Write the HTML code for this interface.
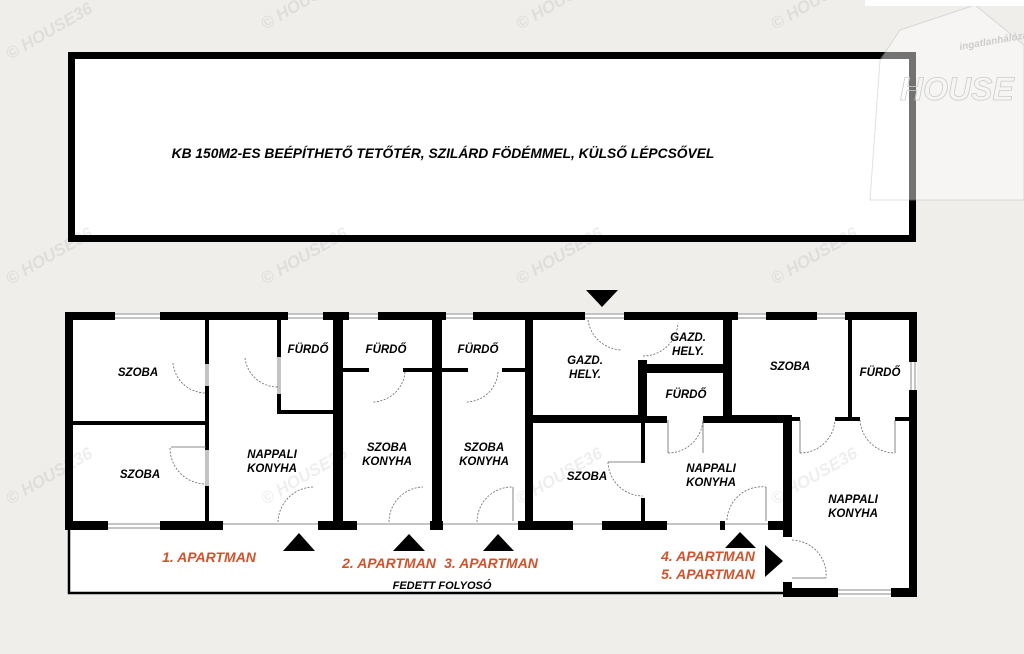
<!DOCTYPE html>
<html><head><meta charset="utf-8"><style>
html,body{margin:0;padding:0;background:#efeeeb;}
svg{display:block}
text{font-family:"Liberation Sans",sans-serif;font-weight:bold;font-style:italic;}
</style></head><body>
<svg width="1024" height="654" viewBox="0 0 1024 654" xmlns="http://www.w3.org/2000/svg">
<rect width="1024" height="654" fill="#efeeeb"/>
<!-- top rectangle -->
<rect x="71.5" y="55.5" width="841" height="183" fill="#fff" stroke="#000" stroke-width="7"/>
<text x="443" y="158" font-size="13.8" text-anchor="middle">KB 150M2-ES BEÉPÍTHETŐ TETŐTÉR, SZILÁRD FÖDÉMMEL, KÜLSŐ LÉPCSŐVEL</text>

<!-- floor white fill -->
<rect x="68" y="313" width="849" height="217" fill="#fff"/>
<rect x="68" y="530" width="719" height="63" fill="#fff"/>
<rect x="787" y="530" width="130" height="67" fill="#fff"/>
<path d="M69 530 V593 H787" fill="none" stroke="#000" stroke-width="2.5"/>

<g fill="#000">
<rect x="65" y="312" width="50" height="8"/>
<rect x="160" y="312" width="128" height="8"/>
<rect x="323" y="312" width="26" height="8"/>
<rect x="378" y="312" width="68" height="8"/>
<rect x="473" y="312" width="112" height="8"/>
<rect x="624" y="312" width="114" height="8"/>
<rect x="766" y="312" width="51" height="8"/>
<rect x="845" y="312" width="72" height="8"/>
<rect x="65" y="312" width="8" height="218"/>
<rect x="909" y="312" width="8" height="50"/>
<rect x="909" y="390" width="8" height="207"/>
<rect x="65" y="521" width="43" height="9"/>
<rect x="160" y="521" width="63" height="9"/>
<rect x="318" y="521" width="39" height="9"/>
<rect x="430" y="521" width="13" height="9"/>
<rect x="518" y="521" width="55" height="9"/>
<rect x="602" y="521" width="65" height="9"/>
<rect x="720" y="521" width="5" height="9"/>
<rect x="768" y="521" width="24" height="9"/>
<rect x="787" y="588" width="51" height="9"/>
<rect x="891" y="588" width="26" height="9"/>
<rect x="783" y="417" width="9" height="120"/>
<rect x="783" y="582" width="9" height="15"/>
<rect x="205" y="320" width="4" height="44"/>
<rect x="205" y="386" width="4" height="64"/>
<rect x="205" y="486" width="4" height="40"/>
<rect x="73" y="421" width="134" height="4"/>
<rect x="277" y="320" width="4" height="37"/>
<rect x="277" y="394" width="4" height="19"/>
<rect x="277" y="410" width="58" height="4"/>
<rect x="333" y="320" width="10" height="210"/>
<rect x="343" y="368" width="26" height="4"/>
<rect x="403" y="368" width="30" height="4"/>
<rect x="432" y="320" width="10" height="210"/>
<rect x="442" y="368" width="26" height="4"/>
<rect x="502" y="368" width="24" height="4"/>
<rect x="525" y="320" width="8" height="210"/>
<rect x="533" y="415" width="112" height="8"/>
<rect x="638" y="360" width="9" height="63"/>
<rect x="641" y="423" width="4" height="40"/>
<rect x="641" y="498" width="4" height="28"/>
<rect x="641" y="364" width="82" height="9"/>
<rect x="723" y="320" width="9" height="102"/>
<rect x="647" y="416" width="20" height="7"/>
<rect x="703" y="416" width="89" height="7"/>
<rect x="732" y="415" width="60" height="6"/>
<rect x="792" y="417" width="8" height="4"/>
<rect x="835" y="417" width="25" height="4"/>
<rect x="895" y="417" width="14" height="4"/>
<rect x="848" y="320" width="4" height="99"/>
</g>

<g stroke="#888" stroke-width="1" fill="none">
<path d="M115 314H160M115 318H160M288 314H323M288 318H323M349 314H378M349 318H378M446 314H473M446 318H473M738 314H766M738 318H766M817 314H845M817 318H845"/>
<path d="M108 524H160M108 528H160M223 524H318M357 524H430M443 524H518M573 524H602M667 524H720M725 524H768M838 590H891M838 594H891"/>
<path d="M911 362V390M915 362V390M585 314H624M585 318H624"/>
<path d="M206 364V386M208 364V386M206 450V486M208 450V486M278 357V394M280 357V394"/>
</g>
<g stroke="#666" stroke-width="0.8" fill="none" stroke-dasharray="2,1.5">
<path d="M173 363 A33 33 0 0 0 206 393"/>
<path d="M170 448 A36 36 0 0 0 206 484"/>
<path d="M245 358 A33 33 0 0 0 278 387"/>
<path d="M278 522 A36 36 0 0 1 314 487"/>
<path d="M405 372 A33 33 0 0 1 373 402"/>
<path d="M389 522 A35 35 0 0 1 423 487"/>
<path d="M498 372 A32 32 0 0 1 466 402"/>
<path d="M477 522 A35 35 0 0 1 513 487"/>
<path d="M588 320 A35 35 0 0 0 622 350"/>
<path d="M643 356 A35 35 0 0 0 678 323"/>
<path d="M608 462 A35 35 0 0 0 643 496"/>
<path d="M668 453 A35 35 0 0 0 703 420"/>
<path d="M727 520 A35 35 0 0 1 766 487"/>
<path d="M800 453 A35 35 0 0 0 835 420"/>
<path d="M860 420 A35 35 0 0 0 895 453"/>
<path d="M792 540 A35 35 0 0 1 826 578"/>
</g>
<g stroke="#666" stroke-width="0.8" fill="none">
<path d="M171 447H206M766 487V521M513 487V521M792 578H826M668 420V453M703 420V453M800 420V453M895 420V453M608 462H641"/>
</g>

<g fill="#000">
<polygon points="586,290 618,290 602,307"/>
<polygon points="283,551 315,551 299,533"/>
<polygon points="393,551 425,551 409,534"/>
<polygon points="483,551 514,551 498,534"/>
<polygon points="725,548 756,548 740,532"/>
<polygon points="765,545 783,561 765,577"/>
</g>

<g font-size="11.5" text-anchor="middle">
<text x="138" y="376">SZOBA</text>
<text x="140" y="478">SZOBA</text>
<text x="272" y="458">NAPPALI</text>
<text x="272" y="472">KONYHA</text>
<text x="308" y="353">FÜRDŐ</text>
<text x="386" y="353">FÜRDŐ</text>
<text x="478" y="353">FÜRDŐ</text>
<text x="387" y="451">SZOBA</text>
<text x="387" y="465">KONYHA</text>
<text x="484" y="451">SZOBA</text>
<text x="484" y="465">KONYHA</text>
<text x="585" y="364">GAZD.</text>
<text x="585" y="378">HELY.</text>
<text x="688" y="341">GAZD.</text>
<text x="688" y="355">HELY.</text>
<text x="686" y="398">FÜRDŐ</text>
<text x="790" y="370">SZOBA</text>
<text x="880" y="376">FÜRDŐ</text>
<text x="587" y="480">SZOBA</text>
<text x="711" y="472">NAPPALI</text>
<text x="711" y="486">KONYHA</text>
<text x="853" y="503">NAPPALI</text>
<text x="853" y="517">KONYHA</text>
</g>
<g font-size="14" fill="#d0532c" text-anchor="middle">
<text x="209" y="562">1. APARTMAN</text>
<text x="389" y="568">2. APARTMAN</text>
<text x="491" y="568">3. APARTMAN</text>
<text x="708" y="561">4. APARTMAN</text>
<text x="708" y="579">5. APARTMAN</text>
</g>
<text x="442" y="589" font-size="11" text-anchor="middle">FEDETT FOLYOSÓ</text>

<!-- watermarks (faint, diagonal) -->
<g font-size="17" fill="#000" opacity="0.07" font-style="normal" font-weight="normal">
<text transform="translate(10,60) rotate(-30)">© HOUSE36</text>
<text transform="translate(265,30) rotate(-30)">© HOUSE36</text>
<text transform="translate(520,30) rotate(-30)">© HOUSE36</text>
<text transform="translate(775,30) rotate(-30)">© HOUSE36</text>
<text transform="translate(10,285) rotate(-30)">© HOUSE36</text>
<text transform="translate(265,285) rotate(-30)">© HOUSE36</text>
<text transform="translate(520,285) rotate(-30)">© HOUSE36</text>
<text transform="translate(775,285) rotate(-30)">© HOUSE36</text>
<text transform="translate(10,505) rotate(-30)">© HOUSE36</text>
<text transform="translate(265,505) rotate(-30)">© HOUSE36</text>
<text transform="translate(520,505) rotate(-30)">© HOUSE36</text>
<text transform="translate(775,505) rotate(-30)">© HOUSE36</text>
</g>
<!-- logo -->
<g opacity="0.45" fill="#fff" stroke="#bbb" stroke-width="1">
<polygon points="900,30 975,5 1024,45 1024,200 870,200 880,60"/>
</g>
<text x="960" y="50" font-size="10" fill="#ccc" font-style="normal" transform="rotate(-10 960 50)">ingatlanhálózat</text>
<text x="900" y="100" font-size="32" fill="none" stroke="#ccc" stroke-width="0.8" font-style="normal" font-weight="normal">HOUSE</text>
<rect x="865" y="0" width="159" height="6" fill="#fff"/>
</svg>
</body></html>
